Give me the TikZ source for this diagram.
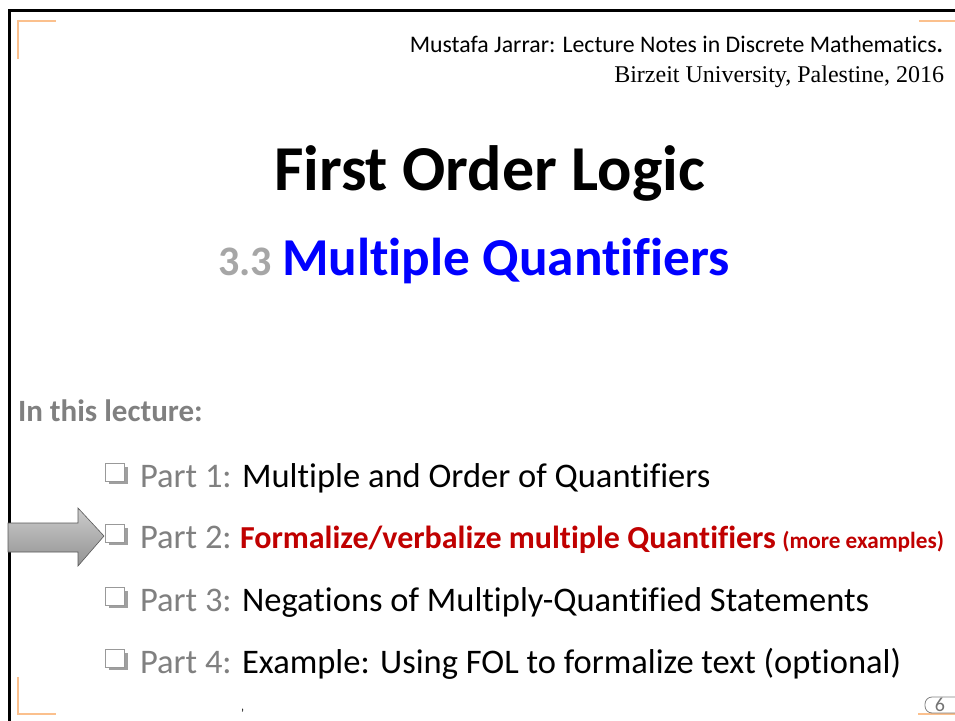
\documentclass[tikz,border=0pt]{standalone}
\usepackage{fontspec}
\setmainfont{Carlito}[Ligatures=NoCommon]
\newfontfamily\timesf{Liberation Serif}
\usetikzlibrary{shadings}
\definecolor{cornerorange}{HTML}{FBC08D}
\definecolor{txtgray}{HTML}{808080}
\definecolor{numgray}{HTML}{A6A6A6}
\definecolor{titleblue}{HTML}{0000FF}
\definecolor{partred}{HTML}{C00000}
\tikzset{
  txt/.style={inner sep=0pt, outer sep=0pt, anchor=base west},
  corner/.style={draw=cornerorange, line width=1.3pt},
  frameline/.style={draw=black, line width=3pt},
  item/.style={txt, font=\fontsize{34.5}{40}\selectfont},
}
\newcommand{\qbox}[2]{%
  \fill[gray!75] (#1+4,#2-20) rectangle (#1+23,#2-3);
  \filldraw[fill=white, draw=gray!80, line width=1pt] (#1,#2-24) rectangle (#1+19,#2-6);
}
\begin{document}
\begin{tikzpicture}[x=1pt,y=-1pt]
\useasboundingbox (0,0) rectangle (955,720);
\fill[white] (0,0) rectangle (955,720);
% frame
\draw[frameline] (9,721) -- (9,10) -- (956,10);
% orange corners
\draw[corner] (18,59) -- (18,21) -- (56,21);
\draw[corner] (919,21) -- (955,21);
\draw[corner] (18,677) -- (18,714) -- (56,714);
\draw[corner] (918,714) -- (955,714);
% header
\node[txt, anchor=base east, font=\fontsize{23.8}{28}\selectfont] (h1) at (943,52) {Mustafa Jarrar: Lecture Notes in Discrete Mathematics\textbf{.}};
\node[txt, anchor=base east, font=\timesf\fontsize{24}{28}\selectfont] (h2) at (944,82) {Birzeit University, Palestine, 2016};
% title
\node[txt, font=\bfseries\fontsize{64}{70}\selectfont] (title) at (274,190) {First Order Logic};
\node[txt, font=\bfseries\fontsize{42}{46}\selectfont, text=numgray] (num) at (218,275) {3.3};
\node[txt, font=\bfseries\fontsize{53.3}{60}\selectfont, text=titleblue] (sub) at (282,275) {Multiple Quantifiers};
% lecture list
\node[txt, font=\bfseries\fontsize{31}{36}\selectfont, text=txtgray] (intro) at (18,421) {In this lecture:};
\qbox{105}{487}
\qbox{105}{548}
\qbox{105}{611}
\qbox{105}{673}
\node[item] (p1) at (140,487) {\textcolor{txtgray}{Part 1:} Multiple and Order of Quantifiers};
\node[item] (p2lab) at (140,548) {\textcolor{txtgray}{Part 2:}};
\node[txt, font=\bfseries\fontsize{32}{36}\selectfont, text=partred] (p2) at (240,548) {Formalize/verbalize multiple Quantifiers};
\node[txt, anchor=base east, font=\bfseries\fontsize{23.2}{28}\selectfont, text=partred] (p2b) at (944,548) {(more examples)};
\node[item] (p3) at (140,611) {\textcolor{txtgray}{Part 3:} Negations of Multiply-Quantified Statements};
\node[item] (p4) at (140,673) {\textcolor{txtgray}{Part 4:} Example: Using FOL to formalize text (optional)};
% arrow
\shade[top color=gray!40, bottom color=gray!85, draw=gray!70!black, line width=0.6pt]
  (8,523) -- (78,523) -- (78,508) -- (104,536) -- (78,566) -- (78,552) -- (8,552) -- cycle;
% page number
\draw[draw=gray, line width=0.8pt, rounded corners=7pt] (962,697) -- (925,697) -- (925,713) -- (962,713);
\node[inner sep=0pt, font=\fontsize{20}{22}\selectfont, text=gray!90!black] (pg) at (940,705) {6};
% small mark
\node[txt, font=\fontsize{12}{14}\selectfont] (mark) at (241,717) {'};
\end{tikzpicture}
\end{document}
